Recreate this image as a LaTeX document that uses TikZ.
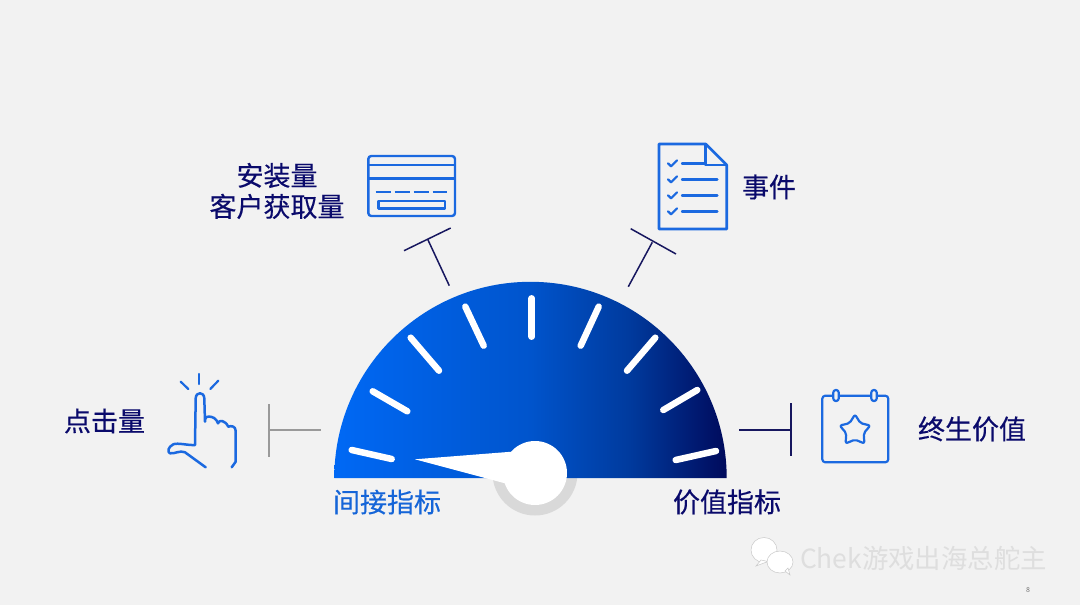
\documentclass[tikz,border=0pt]{standalone}
\usepackage{fontspec}
\setmainfont{Noto Sans CJK SC}
\newfontfamily\labelfont[FakeBold=0.35]{Noto Sans CJK SC}
\usetikzlibrary{shapes.geometric}
\definecolor{pagegray}{HTML}{F2F2F2}
\definecolor{navytext}{HTML}{0A0A6B}
\definecolor{bluetext}{HTML}{1565D8}
\definecolor{iconblue}{HTML}{1B69E0}
\definecolor{armnavy}{HTML}{17175F}
\definecolor{armgray}{HTML}{9A9A9A}
\definecolor{hubgray}{HTML}{D9D9D9}
\definecolor{markgray}{HTML}{DEDEDE}
\pgfdeclarehorizontalshading{gaugeshade}{100bp}{
  rgb(0bp)=(0,.41,.96); rgb(25bp)=(0,.41,.96); rgb(50bp)=(0,.33,.80);
  rgb(62.5bp)=(0,.23,.62); rgb(75bp)=(0,.04,.36); rgb(100bp)=(0,.04,.36)}
\begin{document}
\begin{tikzpicture}[x=1pt,y=-1pt,
  every node/.style = {inner sep=0pt, outer sep=0pt, align=center},
  labeltext/.style = {text=navytext, font=\labelfont\fontsize{27}{31}\selectfont},
  bluelabel/.style = {text=bluetext, font=\labelfont\fontsize{27}{31}\selectfont},
  marktext/.style = {text=markgray, font=\fontsize{26.4}{30}\selectfont},
  icon/.style = {draw=iconblue, line width=2.4pt, line join=round},
  iconthin/.style = {draw=iconblue, line width=2.2pt, line cap=round, line join=round},
  arm/.style = {draw=armnavy, line width=1.5pt},
  grayarm/.style = {draw=armgray, line width=1.2pt},
  tickmark/.style = {draw=white, line width=6.5pt, line cap=round},
  bubble/.style = {draw=markgray!90!black, fill=white, line width=.5pt}]
  \fill[pagegray] (0,0) rectangle (1080,605);

  % gauge
  \fill[hubgray] (535,473) circle (42.5pt);
  \shade[shading=gaugeshade]
    (334.3,478) arc[start angle=180, end angle=0, radius=196.2pt] -- cycle;
  \foreach \xa/\ya/\xb/\yb in {351.7/450/391.7/459, 372.7/391.3/407.3/411.3,
      410.7/337.7/439/370.7, 465.3/306.7/483.7/345.7, 531.7/298.3/531.7/336.7,
      598.7/306.7/580.7/345.7, 655.3/337.7/627/370.7, 697.3/390/663.3/410,
      716/451/675.7/460}
    \draw[tickmark] (\xa,\ya) -- (\xb,\yb);
  \fill[white] (415,459.3) -- (511.7,451.7) -- (505,483.3) -- cycle;
  \fill[white] (535,473) circle (32pt);

  % labels
  \node[bluelabel] (indirect) at (387,502) {间接指标};
  \node[labeltext] (value) at (727,502) {价值指标};
  \node[labeltext] (installs) at (277,191) {安装量\\客户获取量};
  \node[labeltext] (events) at (769,187) {事件};
  \node[labeltext] (clicks) at (104.5,421) {点击量};
  \node[labeltext] (lifetime) at (972,429) {终生价值};

  % arms
  \coordinate (leftbara) at (269,404.3);
  \coordinate (leftbarb) at (269,456.7);
  \coordinate (leftmid) at (269,430);
  \coordinate (leftend) at (321,430);
  \draw[grayarm] (leftbara) -- (leftbarb);
  \draw[grayarm] (leftmid) -- (leftend);
  \coordinate (rightbara) at (791,403.3);
  \coordinate (rightbarb) at (791,456);
  \coordinate (rightmid) at (791,430);
  \coordinate (rightend) at (739.3,430);
  \draw[arm] (rightbara) -- (rightbarb);
  \draw[arm] (rightmid) -- (rightend);
  \coordinate (cardbara) at (404,250.7);
  \coordinate (cardbarb) at (450.7,228);
  \coordinate (cardmid) at (427.7,239.3);
  \coordinate (cardend) at (449.3,285.7);
  \draw[arm] (cardbara) -- (cardbarb);
  \draw[arm] (cardmid) -- (cardend);
  \coordinate (docbara) at (630.7,228.7);
  \coordinate (docbarb) at (676,254);
  \coordinate (docmid) at (652.3,242.3);
  \coordinate (docend) at (628.3,286.7);
  \draw[arm] (docbara) -- (docbarb);
  \draw[arm] (docmid) -- (docend);

  % card icon
  \draw[icon, rounded corners=3pt] (368.3,156) rectangle (455,216);
  \draw[icon] (368.3,165) -- (455,165);
  \draw[icon] (368.3,178.3) -- (455,178.3);
  \draw[icon, dash pattern=on 15pt off 4pt] (375.7,191.7) -- (447.3,191.7);
  \draw[icon] (378.3,200.7) rectangle (445,208.3);

  % document icon
  \draw[icon, line width=2.6pt] (659,144) -- (705.7,144) -- (726.7,165) -- (726.7,229)
    -- (659,229) -- cycle;
  \draw[icon, line width=2.6pt] (705.7,144) -- (705.7,165) -- (726.7,165);
  \foreach \yy/\xe in {163.3/705.7, 179.3/717.3, 195.3/717.3, 211.3/717.3} {
    \draw[iconthin] (668,\yy) -- ++(3,3) -- ++(6,-6);
    \draw[iconthin, line width=2.4pt] (682,\yy) -- (\xe,\yy);
  }

  % hand icon
  \draw[iconthin, line width=2.5pt] (205.7,467.3) -- (185,452.3)
    .. controls (180,450) and (175,454) .. (170,453.3)
    .. controls (167,452) and (168,447) .. (173.3,444.3)
    .. controls (178,442.5) and (188,445.5) .. (195,445)
    -- (195.7,398.3)
    .. controls (196,391.5) and (204,391.5) .. (204.3,398.3)
    -- (205,421.7)
    .. controls (205,417) and (207,416) .. (209,416.5)
    .. controls (213,417) and (216,418) .. (218,423.3)
    .. controls (219,419.5) and (225,420) .. (228.3,426.7)
    .. controls (231,425.5) and (235.7,426) .. (235.7,431)
    -- (235.7,461.7) -- (231.7,467.3);
  \draw[iconthin] (199.3,374) -- (199.3,384);
  \draw[iconthin] (180.7,381.7) -- (188.3,389);
  \draw[iconthin] (218.3,380.7) -- (210.3,389);

  % calendar icon
  \draw[iconthin, rounded corners=3pt] (822.3,395.7) rectangle (888.3,462.3);
  \foreach \xx in {836,874}
    \draw[iconthin, fill=pagegray, rounded corners=2.5pt] (\xx-2.7,390) rectangle (\xx+2.7,401);
  \node[star, star points=5, star point ratio=1.75, minimum size=32pt, draw=iconblue,
    line width=2.2pt, rounded corners=2pt, line join=round] (calstar) at (855,430.5) {};

  % watermark
  \draw[bubble] (764,550) ellipse (13pt and 12.5pt);
  \draw[bubble] (761,560) -- (756,566) -- (768,561.5) -- cycle;
  \draw[bubble] (780,562) ellipse (13pt and 11pt);
  \draw[bubble] (785,571) -- (790,575) -- (788,568) -- cycle;
  \node[marktext, anchor=west] (mark) at (800,558) {Chek游戏出海总舵主};
  \node[text=black!55, font=\fontsize{7}{8}\selectfont] (pagenum) at (1028,590) {8};
\end{tikzpicture}
\end{document}
